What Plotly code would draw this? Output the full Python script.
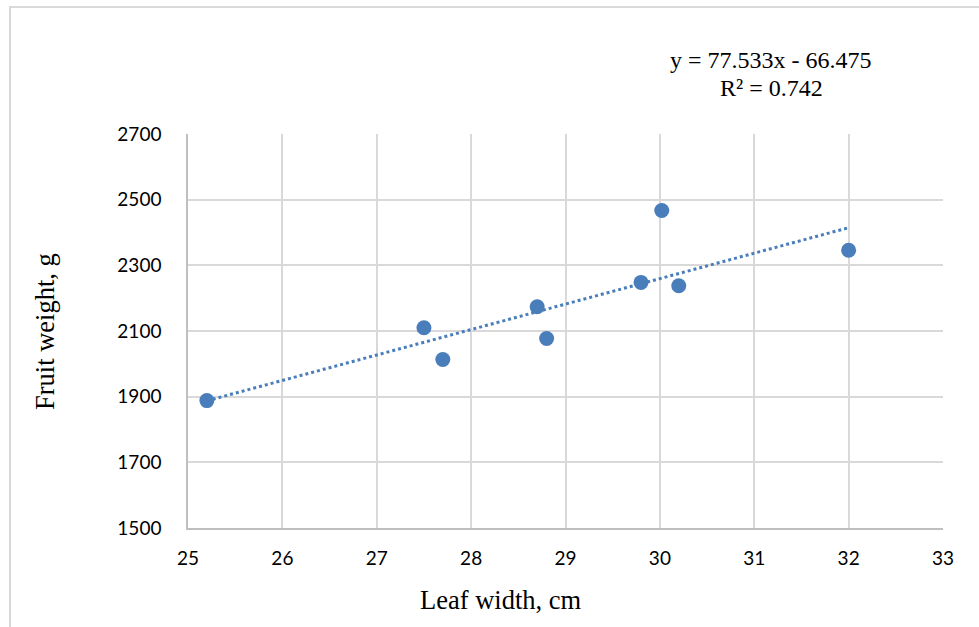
import plotly.graph_objects as go

leaf_width = [25.2, 27.5, 27.7, 28.7, 28.8, 29.8, 30.02, 30.2, 32.0]
fruit_weight = [1888, 2110, 2013, 2174, 2077, 2248, 2467, 2238, 2346]
trend_slope = 77.533
trend_intercept = -66.475
r_squared = 0.742
x_ticks = [25, 26, 27, 28, 29, 30, 31, 32, 33]
y_ticks = [1500, 1700, 1900, 2100, 2300, 2500, 2700]

blue = "#4a7ebb"
trend_x = [min(leaf_width), max(leaf_width)]
trend_y = [trend_slope * v + trend_intercept for v in trend_x]

fig = go.Figure()
fig.add_trace(go.Scatter(x=trend_x, y=trend_y, mode="lines",
                         line=dict(color=blue, width=3, dash="dot"),
                         hoverinfo="skip", showlegend=False))
fig.add_trace(go.Scatter(x=leaf_width, y=fruit_weight, mode="markers",
                         marker=dict(color=blue, size=15), showlegend=False))

tickfont = dict(family="Lato, Open Sans, sans-serif", size=19, color="#000000")
fig.update_xaxes(range=[25, 33], tickvals=x_ticks, showgrid=True, gridcolor="#d9d9d9",
                 gridwidth=1.5, showline=True, linecolor="#bfbfbf", linewidth=1.5,
                 zeroline=False, tickfont=tickfont, ticks="", ticklabelstandoff=12)
fig.update_yaxes(range=[1500, 2700], tickvals=y_ticks, showgrid=True, gridcolor="#d9d9d9",
                 gridwidth=1.5, showline=True, linecolor="#bfbfbf", linewidth=1.5,
                 zeroline=False, tickfont=tickfont, ticks="", ticklabelstandoff=21)

L, R, T, B = 188, 36, 134, 99
PW, PH = 979 - L - R, 627 - T - B


def px(x):
    return (x - L) / PW


def py(y):
    return (627 - B - y) / PH


serif = "Liberation Serif, Times New Roman, serif"
fig.update_layout(
    width=979, height=627,
    margin=dict(l=L, r=R, t=T, b=B),
    plot_bgcolor="white", paper_bgcolor="white",
    shapes=[dict(type="rect", xref="paper", yref="paper", x0=px(10), x1=px(1000), y0=py(640), y1=py(7),
                 line=dict(color="#d9d9d9", width=2), layer="below")],
    annotations=[
        dict(text="Leaf width, cm", xref="paper", yref="paper", x=px(501), y=py(600),
             showarrow=False, font=dict(family=serif, size=26.5, color="#000"), xanchor="center", yanchor="middle"),
        dict(text="Fruit weight, g", xref="paper", yref="paper", x=px(45), y=py(332),
             textangle=-90, showarrow=False, font=dict(family=serif, size=26.5, color="#000"),
             xanchor="center", yanchor="middle"),
        dict(text=f"y = {trend_slope}x - {abs(trend_intercept)}", xref="paper", yref="paper",
             x=px(771), y=py(60), showarrow=False,
             font=dict(family=serif, size=24, color="#000"), xanchor="center", yanchor="middle"),
        dict(text=f"R² = {r_squared}", xref="paper", yref="paper",
             x=px(771), y=py(88), showarrow=False,
             font=dict(family=serif, size=24, color="#000"), xanchor="center", yanchor="middle"),
    ],
)
fig.write_html("out.html", config={"displayModeBar": False},
               post_script="document.body.style.margin='0';")
